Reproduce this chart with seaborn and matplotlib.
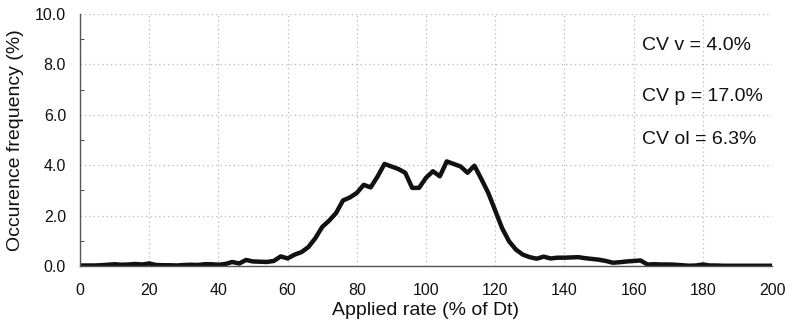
import matplotlib
matplotlib.use("Agg")
import matplotlib.pyplot as plt
import seaborn as sns
import pandas as pd
from matplotlib.ticker import MultipleLocator, FormatStrFormatter

applied_rate = [0, 2, 4, 6, 8, 10, 12, 14, 16, 18, 20, 22, 24, 26, 28, 30, 32, 34, 36, 38,
                40, 42, 44, 46, 48, 50, 52, 54, 56, 58, 60, 62, 64, 66, 68, 70, 72, 74, 76, 78,
                80, 82, 84, 86, 88, 90, 92, 94, 96, 98, 100, 102, 104, 106, 108, 110, 112, 114,
                116, 118, 120, 122, 124, 126, 128, 130, 132, 134, 136, 138, 140, 142, 144, 146,
                148, 150, 152, 154, 156, 158, 160, 162, 164, 166, 168, 170, 172, 174, 176, 178,
                180, 182, 184, 186, 188, 190, 192, 194, 196, 198, 200]
frequency = [0.02, 0.02, 0.02, 0.03, 0.05, 0.07, 0.05, 0.06, 0.08, 0.06, 0.10, 0.04, 0.03, 0.03,
             0.02, 0.04, 0.05, 0.04, 0.07, 0.07, 0.05, 0.08, 0.16, 0.10, 0.24, 0.18, 0.17, 0.16,
             0.20, 0.38, 0.30, 0.45, 0.55, 0.75, 1.10, 1.55, 1.80, 2.10, 2.60, 2.72, 2.90, 3.22,
             3.12, 3.55, 4.05, 3.95, 3.85, 3.70, 3.10, 3.10, 3.50, 3.76, 3.56, 4.15, 4.05, 3.95,
             3.70, 3.98, 3.45, 2.90, 2.20, 1.50, 0.98, 0.65, 0.45, 0.35, 0.29, 0.37, 0.30, 0.33,
             0.33, 0.34, 0.35, 0.31, 0.28, 0.25, 0.20, 0.13, 0.15, 0.18, 0.20, 0.22, 0.06, 0.07,
             0.06, 0.06, 0.05, 0.03, 0.01, 0.02, 0.06, 0.02, 0.02, 0.01, 0.01, 0.01, 0.01, 0.01,
             0.01, 0.01, 0.01]
annotations = ["CV v = 4.0%", "CV p = 17.0%", "CV ol = 6.3%"]
annotation_y = [8.75, 6.72, 5.02]

sns.set_style("white")
plt.rcParams['font.family'] = ['Liberation Sans', 'DejaVu Sans']

df = pd.DataFrame({"rate": applied_rate, "freq": frequency})

fig = plt.figure(figsize=(7.88, 3.22), dpi=100)
ax = fig.add_axes([80 / 788, 56 / 322, 692 / 788, 252 / 322])

sns.lineplot(data=df, x="rate", y="freq", ax=ax, color="#111111", linewidth=3.2,
             solid_joinstyle="round", solid_capstyle="round")

ax.set_xlim(0, 200)
ax.set_ylim(0, 10)
ax.xaxis.set_major_locator(MultipleLocator(20))
ax.yaxis.set_major_locator(MultipleLocator(2))
ax.yaxis.set_minor_locator(MultipleLocator(1))
ax.yaxis.set_major_formatter(FormatStrFormatter("%.1f"))

ax.grid(True, which="major", color="#b8b8b8", linestyle=(0, (1, 2.5)), linewidth=0.9)
for s in ["top", "right"]:
    ax.spines[s].set_visible(False)
for s in ["left", "bottom"]:
    ax.spines[s].set_color("#555555")
    ax.spines[s].set_linewidth(1.0)

ax.tick_params(axis="both", which="major", direction="inout", length=6, width=1,
               color="#555555", labelsize=11.5, labelcolor="#111111")
ax.tick_params(axis="x", pad=9)
ax.tick_params(axis="y", pad=7)
ax.tick_params(axis="y", which="minor", direction="in", length=3, width=0.8,
               color="#555555", left=True)

ax.set_xlabel("Applied rate (% of Dt)", fontsize=14, color="#111111", labelpad=3)
ax.set_ylabel("Occurence frequency (%)", fontsize=14, color="#111111", labelpad=8)

for txt, yy in zip(annotations, annotation_y):
    ax.text(162.3, yy, txt, fontsize=14, color="#111111", va="center", ha="left")

fig.savefig("out.png", dpi=100)
